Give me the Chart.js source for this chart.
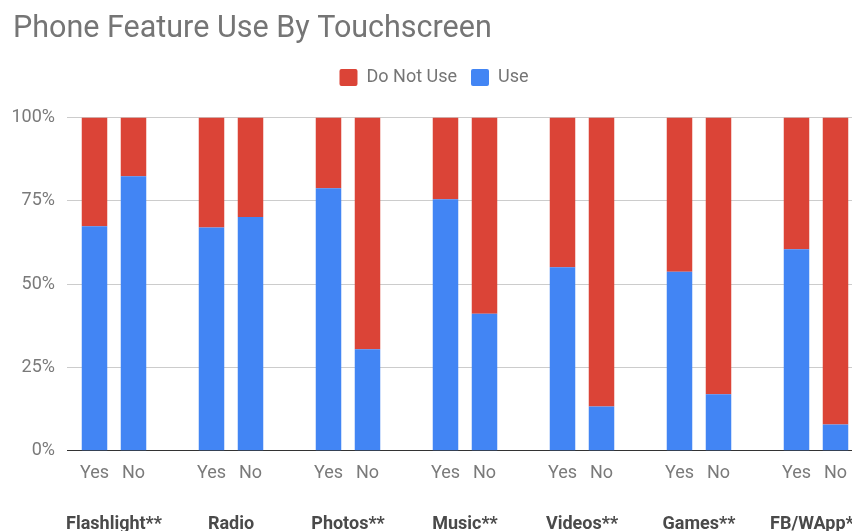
<!DOCTYPE html>
<html>
<head>
<meta charset="utf-8">
<script src="https://cdn.jsdelivr.net/npm/chart.js@4"></script>
<style>
  html, body { margin: 0; padding: 0; background: #fff; overflow: hidden; }
  #wrap { position: absolute; left: 0; top: 0; width: 880px; height: 560px; }
</style>
</head>
<body>
<div id="wrap"><canvas id="c" width="880" height="560"></canvas></div>
<script>
// ---- data ----
const features = ['Flashlight**', 'Radio', 'Photos**', 'Music**', 'Videos**', 'Games**', 'FB/WApp**'];
const answers = ['Yes', 'No'];
const useYes = [67.4, 67.0, 78.8, 75.5, 55.1, 53.7, 60.5];
const useNo = [82.4, 70.2, 30.5, 41.1, 13.3, 17.0, 7.9];
const notUseYes = [32.6, 33.0, 21.2, 24.5, 44.9, 46.3, 39.5];
const notUseNo = [17.6, 29.8, 69.5, 58.9, 86.7, 83.0, 92.1];
const yTicks = [0, 25, 50, 75, 100];

// build slot arrays: Yes, No, gap for each feature (no trailing gap)
const slotLabels = [], groupLabels = [], useData = [], notUseData = [];
features.forEach((f, i) => {
  slotLabels.push(answers[0], answers[1]);
  groupLabels.push(f, '');
  useData.push(useYes[i], useNo[i]);
  notUseData.push(notUseYes[i], notUseNo[i]);
  if (i < features.length - 1) {
    slotLabels.push('');
    groupLabels.push('');
    useData.push(null);
    notUseData.push(null);
  }
});

const FONT = 'Roboto';
const legendMargin = {
  id: 'legendMargin',
  beforeInit(chart) {
    const origFit = chart.legend.fit;
    chart.legend.fit = function () {
      origFit.bind(chart.legend)();
      this.height += 21;
    };
  }
};

new Chart(document.getElementById('c'), {
  type: 'bar',
  plugins: [legendMargin],
  data: {
    labels: slotLabels,
    datasets: [
      { label: 'Use', data: useData, backgroundColor: '#4285F4', barPercentage: 0.654, categoryPercentage: 1.0 },
      { label: 'Do Not Use', data: notUseData, backgroundColor: '#DB4437', barPercentage: 0.654, categoryPercentage: 1.0 }
    ]
  },
  options: {
    responsive: false,
    animation: false,
    devicePixelRatio: 1,
    layout: { padding: { left: 13, right: 25, top: 4, bottom: 0 } },
    plugins: {
      title: {
        display: true,
        text: 'Phone Feature Use By Touchscreen',
        align: 'start',
        color: '#757575',
        font: { family: FONT, size: 30.5, weight: 'normal' },
        padding: { top: 7, bottom: 7 }
      },
      legend: {
        display: true,
        position: 'top',
        reverse: true,
        labels: {
          color: '#757575',
          font: { family: FONT, size: 18 },
          boxWidth: 18,
          boxHeight: 17,
          useBorderRadius: true,
          borderRadius: 2,
          padding: 14
        }
      },
      tooltip: { enabled: false }
    },
    scales: {
      x: {
        stacked: true,
        offset: true,
        grid: { display: false },
        border: { display: true, color: '#333333', width: 1 },
        ticks: {
          autoSkip: false, maxRotation: 0, padding: 4,
          color: '#7a7a7a',
          font: { family: FONT, size: 18 }
        }
      },
      x2: {
        type: 'category',
        labels: groupLabels,
        position: 'bottom',
        offset: true,
        grid: { display: false, drawTicks: false },
        border: { display: false },
        ticks: {
          autoSkip: false, maxRotation: 0, padding: 25,
          labelOffset: 19.5,
          color: '#4a4a4a',
          font: { family: FONT, size: 18, weight: 'bold' }
        }
      },
      y: {
        stacked: true,
        min: 0, max: 100,
        afterBuildTicks: (axis) => { axis.ticks = yTicks.map(v => ({ value: v })); },
        afterFit: (axis) => { axis.width = 62; },
        grid: {
          color: (ctx) => ctx.tick && ctx.tick.value === 0 ? '#333333' : '#cccccc',
          tickLength: 8,
          drawTicks: true
        },
        border: { display: false },
        ticks: {
          padding: 12,
          color: '#7a7a7a',
          font: { family: FONT, size: 18 },
          callback: (v) => v + '%'
        }
      }
    }
  }
});
</script>
</body>
</html>
